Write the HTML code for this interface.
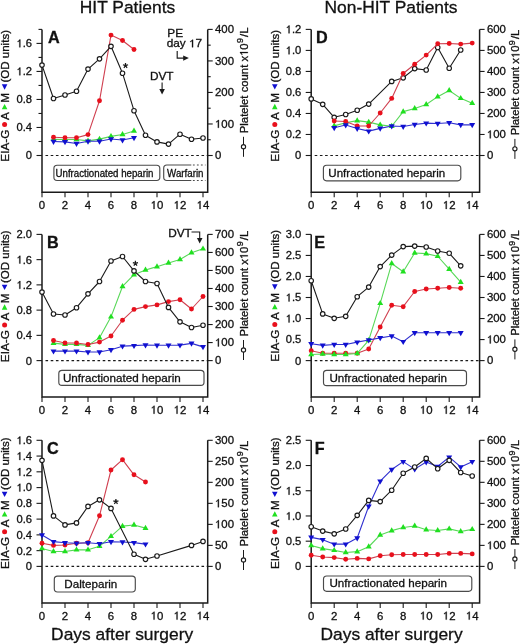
<!DOCTYPE html><html><head><meta charset="utf-8"><title>Figure</title><style>html,body{margin:0;padding:0;background:#fff;width:520px;height:644px;overflow:hidden}svg{display:block;will-change:transform}text{font-family:"Liberation Sans",sans-serif;fill:#111;stroke:#111;stroke-width:0.3px}</style></head><body>
<svg width="520" height="644" viewBox="0 0 520 644">
<rect width="520" height="644" fill="#fff"/>
<text x="79.80" y="12.60" font-size="17.40" text-anchor="start">HIT Patients</text>
<text x="324.50" y="12.60" font-size="17.40" text-anchor="start">Non-HIT Patients</text>
<text x="51.10" y="640.00" font-size="17.40" text-anchor="start">Days after surgery</text>
<text x="320.50" y="639.90" font-size="17.40" text-anchor="start">Days after surgery</text>
<path d="M42.00 29.40V192.30H207.70V29.40" fill="none" stroke="#1a1a1a" stroke-width="1.5"/>
<path d="M36.50 155.50H42.00" stroke="#1a1a1a" stroke-width="1.1"/>
<text x="32.10" y="159.40" font-size="11.20" text-anchor="end">0</text>
<path d="M38.50 141.49H42.00" stroke="#1a1a1a" stroke-width="1.1"/>
<path d="M36.50 127.48H42.00" stroke="#1a1a1a" stroke-width="1.1"/>
<text x="32.10" y="131.38" font-size="11.20" text-anchor="end">0.4</text>
<path d="M38.50 113.47H42.00" stroke="#1a1a1a" stroke-width="1.1"/>
<path d="M36.50 99.46H42.00" stroke="#1a1a1a" stroke-width="1.1"/>
<text x="32.10" y="103.36" font-size="11.20" text-anchor="end">0.8</text>
<path d="M38.50 85.44H42.00" stroke="#1a1a1a" stroke-width="1.1"/>
<path d="M36.50 71.43H42.00" stroke="#1a1a1a" stroke-width="1.1"/>
<path d="M696 0L515 0L515 1150C470 1105 410 1065 345 1030C295 1003 250 985 215 973L215 1120C300 1152 375 1205 432 1262C488 1318 528 1368 553 1409L696 1409Z" fill="#111" stroke="#111" stroke-width="0.3" vector-effect="non-scaling-stroke" transform="translate(16.53 75.33) scale(0.00547 -0.00547)"/><text x="22.76" y="75.33" font-size="11.20">.2</text>
<path d="M38.50 57.42H42.00" stroke="#1a1a1a" stroke-width="1.1"/>
<path d="M36.50 43.41H42.00" stroke="#1a1a1a" stroke-width="1.1"/>
<path d="M696 0L515 0L515 1150C470 1105 410 1065 345 1030C295 1003 250 985 215 973L215 1120C300 1152 375 1205 432 1262C488 1318 528 1368 553 1409L696 1409Z" fill="#111" stroke="#111" stroke-width="0.3" vector-effect="non-scaling-stroke" transform="translate(16.53 47.31) scale(0.00547 -0.00547)"/><text x="22.76" y="47.31" font-size="11.20">.6</text>
<path d="M38.50 29.40H42.00" stroke="#1a1a1a" stroke-width="1.1"/>
<path d="M207.70 155.50H212.70" stroke="#1a1a1a" stroke-width="1.1"/>
<text x="215.00" y="159.35" font-size="11.40" text-anchor="start">0</text>
<path d="M207.70 139.74H210.70" stroke="#1a1a1a" stroke-width="1.1"/>
<path d="M207.70 123.97H212.70" stroke="#1a1a1a" stroke-width="1.1"/>
<path d="M696 0L515 0L515 1150C470 1105 410 1065 345 1030C295 1003 250 985 215 973L215 1120C300 1152 375 1205 432 1262C488 1318 528 1368 553 1409L696 1409Z" fill="#111" stroke="#111" stroke-width="0.3" vector-effect="non-scaling-stroke" transform="translate(215.00 127.82) scale(0.00557 -0.00557)"/><text x="221.34" y="127.82" font-size="11.40">00</text>
<path d="M207.70 108.21H210.70" stroke="#1a1a1a" stroke-width="1.1"/>
<path d="M207.70 92.45H212.70" stroke="#1a1a1a" stroke-width="1.1"/>
<text x="215.00" y="96.30" font-size="11.40" text-anchor="start">200</text>
<path d="M207.70 76.69H210.70" stroke="#1a1a1a" stroke-width="1.1"/>
<path d="M207.70 60.92H212.70" stroke="#1a1a1a" stroke-width="1.1"/>
<text x="215.00" y="64.77" font-size="11.40" text-anchor="start">300</text>
<path d="M207.70 45.16H210.70" stroke="#1a1a1a" stroke-width="1.1"/>
<path d="M207.70 29.40H212.70" stroke="#1a1a1a" stroke-width="1.1"/>
<text x="215.00" y="33.25" font-size="11.40" text-anchor="start">400</text>
<path d="M42.00 192.30V197.30" stroke="#1a1a1a" stroke-width="1.1"/>
<text x="42.00" y="208.90" font-size="11.40" text-anchor="middle">0</text>
<path d="M65.00 192.30V197.30" stroke="#1a1a1a" stroke-width="1.1"/>
<text x="65.00" y="208.90" font-size="11.40" text-anchor="middle">2</text>
<path d="M88.00 192.30V197.30" stroke="#1a1a1a" stroke-width="1.1"/>
<text x="88.00" y="208.90" font-size="11.40" text-anchor="middle">4</text>
<path d="M111.00 192.30V197.30" stroke="#1a1a1a" stroke-width="1.1"/>
<text x="111.00" y="208.90" font-size="11.40" text-anchor="middle">6</text>
<path d="M134.00 192.30V197.30" stroke="#1a1a1a" stroke-width="1.1"/>
<text x="134.00" y="208.90" font-size="11.40" text-anchor="middle">8</text>
<path d="M157.00 192.30V197.30" stroke="#1a1a1a" stroke-width="1.1"/>
<path d="M696 0L515 0L515 1150C470 1105 410 1065 345 1030C295 1003 250 985 215 973L215 1120C300 1152 375 1205 432 1262C488 1318 528 1368 553 1409L696 1409Z" fill="#111" stroke="#111" stroke-width="0.3" vector-effect="non-scaling-stroke" transform="translate(150.66 208.90) scale(0.00557 -0.00557)"/><text x="157.00" y="208.90" font-size="11.40">0</text>
<path d="M180.00 192.30V197.30" stroke="#1a1a1a" stroke-width="1.1"/>
<path d="M696 0L515 0L515 1150C470 1105 410 1065 345 1030C295 1003 250 985 215 973L215 1120C300 1152 375 1205 432 1262C488 1318 528 1368 553 1409L696 1409Z" fill="#111" stroke="#111" stroke-width="0.3" vector-effect="non-scaling-stroke" transform="translate(173.66 208.90) scale(0.00557 -0.00557)"/><text x="180.00" y="208.90" font-size="11.40">2</text>
<path d="M203.00 192.30V197.30" stroke="#1a1a1a" stroke-width="1.1"/>
<path d="M696 0L515 0L515 1150C470 1105 410 1065 345 1030C295 1003 250 985 215 973L215 1120C300 1152 375 1205 432 1262C488 1318 528 1368 553 1409L696 1409Z" fill="#111" stroke="#111" stroke-width="0.3" vector-effect="non-scaling-stroke" transform="translate(196.66 208.90) scale(0.00557 -0.00557)"/><text x="203.00" y="208.90" font-size="11.40">4</text>
<path d="M45.50 155.50H207.70" stroke="#1a1a1a" stroke-width="1.1" stroke-dasharray="2.6 2.6"/>
<text x="48.10" y="42.80" font-size="16.2" font-weight="bold">A</text>
<polyline points="53.50,139.35 65.00,139.45 76.50,139.45 88.00,140.85 99.50,139.15 111.00,136.35 122.50,134.55 134.00,130.95" fill="none" stroke="#58d858" stroke-width="1.10" stroke-linejoin="round"/>
<path d="M53.50 135.90L56.50 141.10L50.50 141.10Z" fill="#20e020"/>
<path d="M65.00 136.00L68.00 141.20L62.00 141.20Z" fill="#20e020"/>
<path d="M76.50 136.00L79.50 141.20L73.50 141.20Z" fill="#20e020"/>
<path d="M88.00 137.40L91.00 142.60L85.00 142.60Z" fill="#20e020"/>
<path d="M99.50 135.70L102.50 140.90L96.50 140.90Z" fill="#20e020"/>
<path d="M111.00 132.90L114.00 138.10L108.00 138.10Z" fill="#20e020"/>
<path d="M122.50 131.10L125.50 136.30L119.50 136.30Z" fill="#20e020"/>
<path d="M134.00 127.50L137.00 132.70L131.00 132.70Z" fill="#20e020"/>
<polyline points="53.50,137.20 65.00,137.80 76.50,137.80 88.00,134.60 99.50,100.80 111.00,35.10 122.50,40.50 134.00,49.50" fill="none" stroke="#d04050" stroke-width="1.10" stroke-linejoin="round"/>
<circle cx="53.50" cy="137.20" r="2.45" fill="#e8101c"/>
<circle cx="65.00" cy="137.80" r="2.45" fill="#e8101c"/>
<circle cx="76.50" cy="137.80" r="2.45" fill="#e8101c"/>
<circle cx="88.00" cy="134.60" r="2.45" fill="#e8101c"/>
<circle cx="99.50" cy="100.80" r="2.45" fill="#e8101c"/>
<circle cx="111.00" cy="35.10" r="2.45" fill="#e8101c"/>
<circle cx="122.50" cy="40.50" r="2.45" fill="#e8101c"/>
<circle cx="134.00" cy="49.50" r="2.45" fill="#e8101c"/>
<polyline points="53.50,141.55 65.00,141.85 76.50,143.45 88.00,141.25 99.50,141.25 111.00,138.95 122.50,139.95 134.00,137.75" fill="none" stroke="#3030d0" stroke-width="1.10" stroke-linejoin="round"/>
<path d="M53.50 145.00L56.50 139.80L50.50 139.80Z" fill="#1010d0"/>
<path d="M65.00 145.30L68.00 140.10L62.00 140.10Z" fill="#1010d0"/>
<path d="M76.50 146.90L79.50 141.70L73.50 141.70Z" fill="#1010d0"/>
<path d="M88.00 144.70L91.00 139.50L85.00 139.50Z" fill="#1010d0"/>
<path d="M99.50 144.70L102.50 139.50L96.50 139.50Z" fill="#1010d0"/>
<path d="M111.00 142.40L114.00 137.20L108.00 137.20Z" fill="#1010d0"/>
<path d="M122.50 143.40L125.50 138.20L119.50 138.20Z" fill="#1010d0"/>
<path d="M134.00 141.20L137.00 136.00L131.00 136.00Z" fill="#1010d0"/>
<polyline points="42.00,65.10 53.50,98.50 65.00,95.00 76.50,91.20 88.00,69.10 99.50,58.80 111.00,46.30 122.50,73.20 134.00,110.70 145.50,135.20 157.00,141.90 168.50,144.10 180.00,134.20 191.50,139.20 203.00,138.00" fill="none" stroke="#1a1a1a" stroke-width="1.10" stroke-linejoin="round"/>
<circle cx="42.00" cy="65.10" r="2.25" fill="#fff" stroke="#1a1a1a" stroke-width="1.15"/>
<circle cx="53.50" cy="98.50" r="2.25" fill="#fff" stroke="#1a1a1a" stroke-width="1.15"/>
<circle cx="65.00" cy="95.00" r="2.25" fill="#fff" stroke="#1a1a1a" stroke-width="1.15"/>
<circle cx="76.50" cy="91.20" r="2.25" fill="#fff" stroke="#1a1a1a" stroke-width="1.15"/>
<circle cx="88.00" cy="69.10" r="2.25" fill="#fff" stroke="#1a1a1a" stroke-width="1.15"/>
<circle cx="99.50" cy="58.80" r="2.25" fill="#fff" stroke="#1a1a1a" stroke-width="1.15"/>
<circle cx="111.00" cy="46.30" r="2.25" fill="#fff" stroke="#1a1a1a" stroke-width="1.15"/>
<circle cx="122.50" cy="73.20" r="2.25" fill="#fff" stroke="#1a1a1a" stroke-width="1.15"/>
<circle cx="134.00" cy="110.70" r="2.25" fill="#fff" stroke="#1a1a1a" stroke-width="1.15"/>
<circle cx="145.50" cy="135.20" r="2.25" fill="#fff" stroke="#1a1a1a" stroke-width="1.15"/>
<circle cx="157.00" cy="141.90" r="2.25" fill="#fff" stroke="#1a1a1a" stroke-width="1.15"/>
<circle cx="168.50" cy="144.10" r="2.25" fill="#fff" stroke="#1a1a1a" stroke-width="1.15"/>
<circle cx="180.00" cy="134.20" r="2.25" fill="#fff" stroke="#1a1a1a" stroke-width="1.15"/>
<circle cx="191.50" cy="139.20" r="2.25" fill="#fff" stroke="#1a1a1a" stroke-width="1.15"/>
<circle cx="203.00" cy="138.00" r="2.25" fill="#fff" stroke="#1a1a1a" stroke-width="1.15"/>
<path d="M42.00 234.40V397.10H207.70V234.40" fill="none" stroke="#1a1a1a" stroke-width="1.5"/>
<path d="M36.50 360.60H42.00" stroke="#1a1a1a" stroke-width="1.1"/>
<text x="32.10" y="364.50" font-size="11.20" text-anchor="end">0</text>
<path d="M36.50 335.36H42.00" stroke="#1a1a1a" stroke-width="1.1"/>
<text x="32.10" y="339.26" font-size="11.20" text-anchor="end">0.4</text>
<path d="M36.50 310.12H42.00" stroke="#1a1a1a" stroke-width="1.1"/>
<text x="32.10" y="314.02" font-size="11.20" text-anchor="end">0.8</text>
<path d="M36.50 284.88H42.00" stroke="#1a1a1a" stroke-width="1.1"/>
<path d="M696 0L515 0L515 1150C470 1105 410 1065 345 1030C295 1003 250 985 215 973L215 1120C300 1152 375 1205 432 1262C488 1318 528 1368 553 1409L696 1409Z" fill="#111" stroke="#111" stroke-width="0.3" vector-effect="non-scaling-stroke" transform="translate(16.53 288.78) scale(0.00547 -0.00547)"/><text x="22.76" y="288.78" font-size="11.20">.2</text>
<path d="M36.50 259.64H42.00" stroke="#1a1a1a" stroke-width="1.1"/>
<path d="M696 0L515 0L515 1150C470 1105 410 1065 345 1030C295 1003 250 985 215 973L215 1120C300 1152 375 1205 432 1262C488 1318 528 1368 553 1409L696 1409Z" fill="#111" stroke="#111" stroke-width="0.3" vector-effect="non-scaling-stroke" transform="translate(16.53 263.54) scale(0.00547 -0.00547)"/><text x="22.76" y="263.54" font-size="11.20">.6</text>
<path d="M36.50 234.40H42.00" stroke="#1a1a1a" stroke-width="1.1"/>
<text x="32.10" y="238.30" font-size="11.20" text-anchor="end">2.0</text>
<path d="M207.70 360.60H212.70" stroke="#1a1a1a" stroke-width="1.1"/>
<text x="215.00" y="364.45" font-size="11.40" text-anchor="start">0</text>
<path d="M207.70 342.57H212.70" stroke="#1a1a1a" stroke-width="1.1"/>
<path d="M696 0L515 0L515 1150C470 1105 410 1065 345 1030C295 1003 250 985 215 973L215 1120C300 1152 375 1205 432 1262C488 1318 528 1368 553 1409L696 1409Z" fill="#111" stroke="#111" stroke-width="0.3" vector-effect="non-scaling-stroke" transform="translate(215.00 346.42) scale(0.00557 -0.00557)"/><text x="221.34" y="346.42" font-size="11.40">00</text>
<path d="M207.70 324.54H212.70" stroke="#1a1a1a" stroke-width="1.1"/>
<text x="215.00" y="328.39" font-size="11.40" text-anchor="start">200</text>
<path d="M207.70 306.51H212.70" stroke="#1a1a1a" stroke-width="1.1"/>
<text x="215.00" y="310.36" font-size="11.40" text-anchor="start">300</text>
<path d="M207.70 288.49H212.70" stroke="#1a1a1a" stroke-width="1.1"/>
<text x="215.00" y="292.34" font-size="11.40" text-anchor="start">400</text>
<path d="M207.70 270.46H212.70" stroke="#1a1a1a" stroke-width="1.1"/>
<text x="215.00" y="274.31" font-size="11.40" text-anchor="start">500</text>
<path d="M207.70 252.43H212.70" stroke="#1a1a1a" stroke-width="1.1"/>
<text x="215.00" y="256.28" font-size="11.40" text-anchor="start">600</text>
<path d="M207.70 234.40H212.70" stroke="#1a1a1a" stroke-width="1.1"/>
<text x="215.00" y="238.25" font-size="11.40" text-anchor="start">700</text>
<path d="M42.00 397.10V402.10" stroke="#1a1a1a" stroke-width="1.1"/>
<text x="42.00" y="413.70" font-size="11.40" text-anchor="middle">0</text>
<path d="M65.00 397.10V402.10" stroke="#1a1a1a" stroke-width="1.1"/>
<text x="65.00" y="413.70" font-size="11.40" text-anchor="middle">2</text>
<path d="M88.00 397.10V402.10" stroke="#1a1a1a" stroke-width="1.1"/>
<text x="88.00" y="413.70" font-size="11.40" text-anchor="middle">4</text>
<path d="M111.00 397.10V402.10" stroke="#1a1a1a" stroke-width="1.1"/>
<text x="111.00" y="413.70" font-size="11.40" text-anchor="middle">6</text>
<path d="M134.00 397.10V402.10" stroke="#1a1a1a" stroke-width="1.1"/>
<text x="134.00" y="413.70" font-size="11.40" text-anchor="middle">8</text>
<path d="M157.00 397.10V402.10" stroke="#1a1a1a" stroke-width="1.1"/>
<path d="M696 0L515 0L515 1150C470 1105 410 1065 345 1030C295 1003 250 985 215 973L215 1120C300 1152 375 1205 432 1262C488 1318 528 1368 553 1409L696 1409Z" fill="#111" stroke="#111" stroke-width="0.3" vector-effect="non-scaling-stroke" transform="translate(150.66 413.70) scale(0.00557 -0.00557)"/><text x="157.00" y="413.70" font-size="11.40">0</text>
<path d="M180.00 397.10V402.10" stroke="#1a1a1a" stroke-width="1.1"/>
<path d="M696 0L515 0L515 1150C470 1105 410 1065 345 1030C295 1003 250 985 215 973L215 1120C300 1152 375 1205 432 1262C488 1318 528 1368 553 1409L696 1409Z" fill="#111" stroke="#111" stroke-width="0.3" vector-effect="non-scaling-stroke" transform="translate(173.66 413.70) scale(0.00557 -0.00557)"/><text x="180.00" y="413.70" font-size="11.40">2</text>
<path d="M203.00 397.10V402.10" stroke="#1a1a1a" stroke-width="1.1"/>
<path d="M696 0L515 0L515 1150C470 1105 410 1065 345 1030C295 1003 250 985 215 973L215 1120C300 1152 375 1205 432 1262C488 1318 528 1368 553 1409L696 1409Z" fill="#111" stroke="#111" stroke-width="0.3" vector-effect="non-scaling-stroke" transform="translate(196.66 413.70) scale(0.00557 -0.00557)"/><text x="203.00" y="413.70" font-size="11.40">4</text>
<path d="M45.50 360.60H207.70" stroke="#1a1a1a" stroke-width="1.1" stroke-dasharray="2.6 2.6"/>
<text x="47.00" y="248.00" font-size="16.2" font-weight="bold">B</text>
<polyline points="53.50,343.15 65.00,344.35 76.50,344.35 88.00,345.35 99.50,337.65 111.00,316.85 122.50,286.45 134.00,274.65 145.50,270.05 157.00,266.65 168.50,262.95 180.00,259.55 191.50,252.65 203.00,248.85" fill="none" stroke="#58d858" stroke-width="1.10" stroke-linejoin="round"/>
<path d="M53.50 339.70L56.50 344.90L50.50 344.90Z" fill="#20e020"/>
<path d="M65.00 340.90L68.00 346.10L62.00 346.10Z" fill="#20e020"/>
<path d="M76.50 340.90L79.50 346.10L73.50 346.10Z" fill="#20e020"/>
<path d="M88.00 341.90L91.00 347.10L85.00 347.10Z" fill="#20e020"/>
<path d="M99.50 334.20L102.50 339.40L96.50 339.40Z" fill="#20e020"/>
<path d="M111.00 313.40L114.00 318.60L108.00 318.60Z" fill="#20e020"/>
<path d="M122.50 283.00L125.50 288.20L119.50 288.20Z" fill="#20e020"/>
<path d="M134.00 271.20L137.00 276.40L131.00 276.40Z" fill="#20e020"/>
<path d="M145.50 266.60L148.50 271.80L142.50 271.80Z" fill="#20e020"/>
<path d="M157.00 263.20L160.00 268.40L154.00 268.40Z" fill="#20e020"/>
<path d="M168.50 259.50L171.50 264.70L165.50 264.70Z" fill="#20e020"/>
<path d="M180.00 256.10L183.00 261.30L177.00 261.30Z" fill="#20e020"/>
<path d="M191.50 249.20L194.50 254.40L188.50 254.40Z" fill="#20e020"/>
<path d="M203.00 245.40L206.00 250.60L200.00 250.60Z" fill="#20e020"/>
<polyline points="53.50,340.50 65.00,343.00 76.50,343.00 88.00,344.50 99.50,342.10 111.00,336.00 122.50,320.20 134.00,309.40 145.50,306.60 157.00,304.90 168.50,301.60 180.00,299.80 191.50,309.00 203.00,296.50" fill="none" stroke="#d04050" stroke-width="1.10" stroke-linejoin="round"/>
<circle cx="53.50" cy="340.50" r="2.45" fill="#e8101c"/>
<circle cx="65.00" cy="343.00" r="2.45" fill="#e8101c"/>
<circle cx="76.50" cy="343.00" r="2.45" fill="#e8101c"/>
<circle cx="88.00" cy="344.50" r="2.45" fill="#e8101c"/>
<circle cx="99.50" cy="342.10" r="2.45" fill="#e8101c"/>
<circle cx="111.00" cy="336.00" r="2.45" fill="#e8101c"/>
<circle cx="122.50" cy="320.20" r="2.45" fill="#e8101c"/>
<circle cx="134.00" cy="309.40" r="2.45" fill="#e8101c"/>
<circle cx="145.50" cy="306.60" r="2.45" fill="#e8101c"/>
<circle cx="157.00" cy="304.90" r="2.45" fill="#e8101c"/>
<circle cx="168.50" cy="301.60" r="2.45" fill="#e8101c"/>
<circle cx="180.00" cy="299.80" r="2.45" fill="#e8101c"/>
<circle cx="191.50" cy="309.00" r="2.45" fill="#e8101c"/>
<circle cx="203.00" cy="296.50" r="2.45" fill="#e8101c"/>
<polyline points="53.50,351.15 65.00,351.15 76.50,351.15 88.00,351.95 99.50,351.95 111.00,349.75 122.50,346.15 134.00,345.65 145.50,344.95 157.00,345.25 168.50,345.25 180.00,345.15 191.50,343.35 203.00,346.85" fill="none" stroke="#3030d0" stroke-width="1.10" stroke-linejoin="round"/>
<path d="M53.50 354.60L56.50 349.40L50.50 349.40Z" fill="#1010d0"/>
<path d="M65.00 354.60L68.00 349.40L62.00 349.40Z" fill="#1010d0"/>
<path d="M76.50 354.60L79.50 349.40L73.50 349.40Z" fill="#1010d0"/>
<path d="M88.00 355.40L91.00 350.20L85.00 350.20Z" fill="#1010d0"/>
<path d="M99.50 355.40L102.50 350.20L96.50 350.20Z" fill="#1010d0"/>
<path d="M111.00 353.20L114.00 348.00L108.00 348.00Z" fill="#1010d0"/>
<path d="M122.50 349.60L125.50 344.40L119.50 344.40Z" fill="#1010d0"/>
<path d="M134.00 349.10L137.00 343.90L131.00 343.90Z" fill="#1010d0"/>
<path d="M145.50 348.40L148.50 343.20L142.50 343.20Z" fill="#1010d0"/>
<path d="M157.00 348.70L160.00 343.50L154.00 343.50Z" fill="#1010d0"/>
<path d="M168.50 348.70L171.50 343.50L165.50 343.50Z" fill="#1010d0"/>
<path d="M180.00 348.60L183.00 343.40L177.00 343.40Z" fill="#1010d0"/>
<path d="M191.50 346.80L194.50 341.60L188.50 341.60Z" fill="#1010d0"/>
<path d="M203.00 350.30L206.00 345.10L200.00 345.10Z" fill="#1010d0"/>
<polyline points="42.00,292.10 53.50,314.00 65.00,315.00 76.50,307.70 88.00,293.80 99.50,281.50 111.00,261.00 122.50,256.50 134.00,270.90 145.50,281.50 157.00,283.50 168.50,307.40 180.00,321.80 191.50,327.50 203.00,325.20" fill="none" stroke="#1a1a1a" stroke-width="1.10" stroke-linejoin="round"/>
<circle cx="42.00" cy="292.10" r="2.25" fill="#fff" stroke="#1a1a1a" stroke-width="1.15"/>
<circle cx="53.50" cy="314.00" r="2.25" fill="#fff" stroke="#1a1a1a" stroke-width="1.15"/>
<circle cx="65.00" cy="315.00" r="2.25" fill="#fff" stroke="#1a1a1a" stroke-width="1.15"/>
<circle cx="76.50" cy="307.70" r="2.25" fill="#fff" stroke="#1a1a1a" stroke-width="1.15"/>
<circle cx="88.00" cy="293.80" r="2.25" fill="#fff" stroke="#1a1a1a" stroke-width="1.15"/>
<circle cx="99.50" cy="281.50" r="2.25" fill="#fff" stroke="#1a1a1a" stroke-width="1.15"/>
<circle cx="111.00" cy="261.00" r="2.25" fill="#fff" stroke="#1a1a1a" stroke-width="1.15"/>
<circle cx="122.50" cy="256.50" r="2.25" fill="#fff" stroke="#1a1a1a" stroke-width="1.15"/>
<circle cx="134.00" cy="270.90" r="2.25" fill="#fff" stroke="#1a1a1a" stroke-width="1.15"/>
<circle cx="145.50" cy="281.50" r="2.25" fill="#fff" stroke="#1a1a1a" stroke-width="1.15"/>
<circle cx="157.00" cy="283.50" r="2.25" fill="#fff" stroke="#1a1a1a" stroke-width="1.15"/>
<circle cx="168.50" cy="307.40" r="2.25" fill="#fff" stroke="#1a1a1a" stroke-width="1.15"/>
<circle cx="180.00" cy="321.80" r="2.25" fill="#fff" stroke="#1a1a1a" stroke-width="1.15"/>
<circle cx="191.50" cy="327.50" r="2.25" fill="#fff" stroke="#1a1a1a" stroke-width="1.15"/>
<circle cx="203.00" cy="325.20" r="2.25" fill="#fff" stroke="#1a1a1a" stroke-width="1.15"/>
<path d="M42.00 440.30V603.00H207.70V440.30" fill="none" stroke="#1a1a1a" stroke-width="1.5"/>
<path d="M36.50 566.40H42.00" stroke="#1a1a1a" stroke-width="1.1"/>
<text x="32.10" y="570.30" font-size="11.20" text-anchor="end">0</text>
<path d="M36.50 550.64H42.00" stroke="#1a1a1a" stroke-width="1.1"/>
<text x="32.10" y="554.54" font-size="11.20" text-anchor="end">0.2</text>
<path d="M36.50 534.88H42.00" stroke="#1a1a1a" stroke-width="1.1"/>
<text x="32.10" y="538.77" font-size="11.20" text-anchor="end">0.4</text>
<path d="M36.50 519.11H42.00" stroke="#1a1a1a" stroke-width="1.1"/>
<text x="32.10" y="523.01" font-size="11.20" text-anchor="end">0.6</text>
<path d="M36.50 503.35H42.00" stroke="#1a1a1a" stroke-width="1.1"/>
<text x="32.10" y="507.25" font-size="11.20" text-anchor="end">0.8</text>
<path d="M36.50 487.59H42.00" stroke="#1a1a1a" stroke-width="1.1"/>
<path d="M696 0L515 0L515 1150C470 1105 410 1065 345 1030C295 1003 250 985 215 973L215 1120C300 1152 375 1205 432 1262C488 1318 528 1368 553 1409L696 1409Z" fill="#111" stroke="#111" stroke-width="0.3" vector-effect="non-scaling-stroke" transform="translate(16.53 491.49) scale(0.00547 -0.00547)"/><text x="22.76" y="491.49" font-size="11.20">.0</text>
<path d="M36.50 471.82H42.00" stroke="#1a1a1a" stroke-width="1.1"/>
<path d="M696 0L515 0L515 1150C470 1105 410 1065 345 1030C295 1003 250 985 215 973L215 1120C300 1152 375 1205 432 1262C488 1318 528 1368 553 1409L696 1409Z" fill="#111" stroke="#111" stroke-width="0.3" vector-effect="non-scaling-stroke" transform="translate(16.53 475.72) scale(0.00547 -0.00547)"/><text x="22.76" y="475.72" font-size="11.20">.2</text>
<path d="M36.50 456.06H42.00" stroke="#1a1a1a" stroke-width="1.1"/>
<path d="M696 0L515 0L515 1150C470 1105 410 1065 345 1030C295 1003 250 985 215 973L215 1120C300 1152 375 1205 432 1262C488 1318 528 1368 553 1409L696 1409Z" fill="#111" stroke="#111" stroke-width="0.3" vector-effect="non-scaling-stroke" transform="translate(16.53 459.96) scale(0.00547 -0.00547)"/><text x="22.76" y="459.96" font-size="11.20">.4</text>
<path d="M36.50 440.30H42.00" stroke="#1a1a1a" stroke-width="1.1"/>
<path d="M696 0L515 0L515 1150C470 1105 410 1065 345 1030C295 1003 250 985 215 973L215 1120C300 1152 375 1205 432 1262C488 1318 528 1368 553 1409L696 1409Z" fill="#111" stroke="#111" stroke-width="0.3" vector-effect="non-scaling-stroke" transform="translate(16.53 444.20) scale(0.00547 -0.00547)"/><text x="22.76" y="444.20" font-size="11.20">.6</text>
<path d="M207.70 566.40H212.70" stroke="#1a1a1a" stroke-width="1.1"/>
<text x="215.00" y="570.25" font-size="11.40" text-anchor="start">0</text>
<path d="M207.70 545.38H212.70" stroke="#1a1a1a" stroke-width="1.1"/>
<text x="215.00" y="549.23" font-size="11.40" text-anchor="start">50</text>
<path d="M207.70 524.37H212.70" stroke="#1a1a1a" stroke-width="1.1"/>
<path d="M696 0L515 0L515 1150C470 1105 410 1065 345 1030C295 1003 250 985 215 973L215 1120C300 1152 375 1205 432 1262C488 1318 528 1368 553 1409L696 1409Z" fill="#111" stroke="#111" stroke-width="0.3" vector-effect="non-scaling-stroke" transform="translate(215.00 528.22) scale(0.00557 -0.00557)"/><text x="221.34" y="528.22" font-size="11.40">00</text>
<path d="M207.70 503.35H212.70" stroke="#1a1a1a" stroke-width="1.1"/>
<path d="M696 0L515 0L515 1150C470 1105 410 1065 345 1030C295 1003 250 985 215 973L215 1120C300 1152 375 1205 432 1262C488 1318 528 1368 553 1409L696 1409Z" fill="#111" stroke="#111" stroke-width="0.3" vector-effect="non-scaling-stroke" transform="translate(215.00 507.20) scale(0.00557 -0.00557)"/><text x="221.34" y="507.20" font-size="11.40">50</text>
<path d="M207.70 482.33H212.70" stroke="#1a1a1a" stroke-width="1.1"/>
<text x="215.00" y="486.18" font-size="11.40" text-anchor="start">200</text>
<path d="M207.70 461.32H212.70" stroke="#1a1a1a" stroke-width="1.1"/>
<text x="215.00" y="465.17" font-size="11.40" text-anchor="start">250</text>
<path d="M207.70 440.30H212.70" stroke="#1a1a1a" stroke-width="1.1"/>
<text x="215.00" y="444.15" font-size="11.40" text-anchor="start">300</text>
<path d="M42.00 603.00V608.00" stroke="#1a1a1a" stroke-width="1.1"/>
<text x="42.00" y="619.60" font-size="11.40" text-anchor="middle">0</text>
<path d="M65.00 603.00V608.00" stroke="#1a1a1a" stroke-width="1.1"/>
<text x="65.00" y="619.60" font-size="11.40" text-anchor="middle">2</text>
<path d="M88.00 603.00V608.00" stroke="#1a1a1a" stroke-width="1.1"/>
<text x="88.00" y="619.60" font-size="11.40" text-anchor="middle">4</text>
<path d="M111.00 603.00V608.00" stroke="#1a1a1a" stroke-width="1.1"/>
<text x="111.00" y="619.60" font-size="11.40" text-anchor="middle">6</text>
<path d="M134.00 603.00V608.00" stroke="#1a1a1a" stroke-width="1.1"/>
<text x="134.00" y="619.60" font-size="11.40" text-anchor="middle">8</text>
<path d="M157.00 603.00V608.00" stroke="#1a1a1a" stroke-width="1.1"/>
<path d="M696 0L515 0L515 1150C470 1105 410 1065 345 1030C295 1003 250 985 215 973L215 1120C300 1152 375 1205 432 1262C488 1318 528 1368 553 1409L696 1409Z" fill="#111" stroke="#111" stroke-width="0.3" vector-effect="non-scaling-stroke" transform="translate(150.66 619.60) scale(0.00557 -0.00557)"/><text x="157.00" y="619.60" font-size="11.40">0</text>
<path d="M180.00 603.00V608.00" stroke="#1a1a1a" stroke-width="1.1"/>
<path d="M696 0L515 0L515 1150C470 1105 410 1065 345 1030C295 1003 250 985 215 973L215 1120C300 1152 375 1205 432 1262C488 1318 528 1368 553 1409L696 1409Z" fill="#111" stroke="#111" stroke-width="0.3" vector-effect="non-scaling-stroke" transform="translate(173.66 619.60) scale(0.00557 -0.00557)"/><text x="180.00" y="619.60" font-size="11.40">2</text>
<path d="M203.00 603.00V608.00" stroke="#1a1a1a" stroke-width="1.1"/>
<path d="M696 0L515 0L515 1150C470 1105 410 1065 345 1030C295 1003 250 985 215 973L215 1120C300 1152 375 1205 432 1262C488 1318 528 1368 553 1409L696 1409Z" fill="#111" stroke="#111" stroke-width="0.3" vector-effect="non-scaling-stroke" transform="translate(196.66 619.60) scale(0.00557 -0.00557)"/><text x="203.00" y="619.60" font-size="11.40">4</text>
<path d="M45.50 566.40H207.70" stroke="#1a1a1a" stroke-width="1.1" stroke-dasharray="2.6 2.6"/>
<text x="47.00" y="453.60" font-size="16.2" font-weight="bold">C</text>
<polyline points="42.00,548.55 53.50,551.55 65.00,551.55 76.50,549.85 88.00,549.85 99.50,546.25 111.00,536.35 122.50,526.15 134.00,525.05 145.50,528.15" fill="none" stroke="#58d858" stroke-width="1.10" stroke-linejoin="round"/>
<path d="M42.00 545.10L45.00 550.30L39.00 550.30Z" fill="#20e020"/>
<path d="M53.50 548.10L56.50 553.30L50.50 553.30Z" fill="#20e020"/>
<path d="M65.00 548.10L68.00 553.30L62.00 553.30Z" fill="#20e020"/>
<path d="M76.50 546.40L79.50 551.60L73.50 551.60Z" fill="#20e020"/>
<path d="M88.00 546.40L91.00 551.60L85.00 551.60Z" fill="#20e020"/>
<path d="M99.50 542.80L102.50 548.00L96.50 548.00Z" fill="#20e020"/>
<path d="M111.00 532.90L114.00 538.10L108.00 538.10Z" fill="#20e020"/>
<path d="M122.50 522.70L125.50 527.90L119.50 527.90Z" fill="#20e020"/>
<path d="M134.00 521.60L137.00 526.80L131.00 526.80Z" fill="#20e020"/>
<path d="M145.50 524.70L148.50 529.90L142.50 529.90Z" fill="#20e020"/>
<polyline points="42.00,543.30 53.50,545.40 65.00,545.00 76.50,543.30 88.00,542.80 99.50,515.80 111.00,470.00 122.50,459.70 134.00,474.80 145.50,482.00" fill="none" stroke="#d04050" stroke-width="1.10" stroke-linejoin="round"/>
<circle cx="42.00" cy="543.30" r="2.45" fill="#e8101c"/>
<circle cx="53.50" cy="545.40" r="2.45" fill="#e8101c"/>
<circle cx="65.00" cy="545.00" r="2.45" fill="#e8101c"/>
<circle cx="76.50" cy="543.30" r="2.45" fill="#e8101c"/>
<circle cx="88.00" cy="542.80" r="2.45" fill="#e8101c"/>
<circle cx="99.50" cy="515.80" r="2.45" fill="#e8101c"/>
<circle cx="111.00" cy="470.00" r="2.45" fill="#e8101c"/>
<circle cx="122.50" cy="459.70" r="2.45" fill="#e8101c"/>
<circle cx="134.00" cy="474.80" r="2.45" fill="#e8101c"/>
<circle cx="145.50" cy="482.00" r="2.45" fill="#e8101c"/>
<polyline points="42.00,535.05 53.50,541.65 65.00,542.75 76.50,543.25 88.00,542.75 99.50,543.75 111.00,541.75 122.50,542.05 134.00,542.65 145.50,544.15" fill="none" stroke="#3030d0" stroke-width="1.10" stroke-linejoin="round"/>
<path d="M42.00 538.50L45.00 533.30L39.00 533.30Z" fill="#1010d0"/>
<path d="M53.50 545.10L56.50 539.90L50.50 539.90Z" fill="#1010d0"/>
<path d="M65.00 546.20L68.00 541.00L62.00 541.00Z" fill="#1010d0"/>
<path d="M76.50 546.70L79.50 541.50L73.50 541.50Z" fill="#1010d0"/>
<path d="M88.00 546.20L91.00 541.00L85.00 541.00Z" fill="#1010d0"/>
<path d="M99.50 547.20L102.50 542.00L96.50 542.00Z" fill="#1010d0"/>
<path d="M111.00 545.20L114.00 540.00L108.00 540.00Z" fill="#1010d0"/>
<path d="M122.50 545.50L125.50 540.30L119.50 540.30Z" fill="#1010d0"/>
<path d="M134.00 546.10L137.00 540.90L131.00 540.90Z" fill="#1010d0"/>
<path d="M145.50 547.60L148.50 542.40L142.50 542.40Z" fill="#1010d0"/>
<polyline points="42.00,460.30 53.50,515.90 65.00,524.90 76.50,522.90 88.00,506.40 99.50,499.80 111.00,508.40 134.00,554.20 145.50,559.30 157.00,556.00 191.50,545.40 203.00,541.40" fill="none" stroke="#1a1a1a" stroke-width="1.10" stroke-linejoin="round"/>
<circle cx="42.00" cy="460.30" r="2.25" fill="#fff" stroke="#1a1a1a" stroke-width="1.15"/>
<circle cx="53.50" cy="515.90" r="2.25" fill="#fff" stroke="#1a1a1a" stroke-width="1.15"/>
<circle cx="65.00" cy="524.90" r="2.25" fill="#fff" stroke="#1a1a1a" stroke-width="1.15"/>
<circle cx="76.50" cy="522.90" r="2.25" fill="#fff" stroke="#1a1a1a" stroke-width="1.15"/>
<circle cx="88.00" cy="506.40" r="2.25" fill="#fff" stroke="#1a1a1a" stroke-width="1.15"/>
<circle cx="99.50" cy="499.80" r="2.25" fill="#fff" stroke="#1a1a1a" stroke-width="1.15"/>
<circle cx="111.00" cy="508.40" r="2.25" fill="#fff" stroke="#1a1a1a" stroke-width="1.15"/>
<circle cx="134.00" cy="554.20" r="2.25" fill="#fff" stroke="#1a1a1a" stroke-width="1.15"/>
<circle cx="145.50" cy="559.30" r="2.25" fill="#fff" stroke="#1a1a1a" stroke-width="1.15"/>
<circle cx="157.00" cy="556.00" r="2.25" fill="#fff" stroke="#1a1a1a" stroke-width="1.15"/>
<circle cx="191.50" cy="545.40" r="2.25" fill="#fff" stroke="#1a1a1a" stroke-width="1.15"/>
<circle cx="203.00" cy="541.40" r="2.25" fill="#fff" stroke="#1a1a1a" stroke-width="1.15"/>
<path d="M311.20 29.40V192.30H479.60V29.40" fill="none" stroke="#1a1a1a" stroke-width="1.5"/>
<path d="M305.70 155.50H311.20" stroke="#1a1a1a" stroke-width="1.1"/>
<text x="301.30" y="159.40" font-size="11.20" text-anchor="end">0</text>
<path d="M305.70 134.48H311.20" stroke="#1a1a1a" stroke-width="1.1"/>
<text x="301.30" y="138.38" font-size="11.20" text-anchor="end">0.2</text>
<path d="M305.70 113.47H311.20" stroke="#1a1a1a" stroke-width="1.1"/>
<text x="301.30" y="117.37" font-size="11.20" text-anchor="end">0.4</text>
<path d="M305.70 92.45H311.20" stroke="#1a1a1a" stroke-width="1.1"/>
<text x="301.30" y="96.35" font-size="11.20" text-anchor="end">0.6</text>
<path d="M305.70 71.43H311.20" stroke="#1a1a1a" stroke-width="1.1"/>
<text x="301.30" y="75.33" font-size="11.20" text-anchor="end">0.8</text>
<path d="M305.70 50.42H311.20" stroke="#1a1a1a" stroke-width="1.1"/>
<path d="M696 0L515 0L515 1150C470 1105 410 1065 345 1030C295 1003 250 985 215 973L215 1120C300 1152 375 1205 432 1262C488 1318 528 1368 553 1409L696 1409Z" fill="#111" stroke="#111" stroke-width="0.3" vector-effect="non-scaling-stroke" transform="translate(285.73 54.32) scale(0.00547 -0.00547)"/><text x="291.96" y="54.32" font-size="11.20">.0</text>
<path d="M305.70 29.40H311.20" stroke="#1a1a1a" stroke-width="1.1"/>
<path d="M696 0L515 0L515 1150C470 1105 410 1065 345 1030C295 1003 250 985 215 973L215 1120C300 1152 375 1205 432 1262C488 1318 528 1368 553 1409L696 1409Z" fill="#111" stroke="#111" stroke-width="0.3" vector-effect="non-scaling-stroke" transform="translate(285.73 33.30) scale(0.00547 -0.00547)"/><text x="291.96" y="33.30" font-size="11.20">.2</text>
<path d="M479.60 155.50H484.60" stroke="#1a1a1a" stroke-width="1.1"/>
<text x="486.90" y="159.35" font-size="11.40" text-anchor="start">0</text>
<path d="M479.60 134.48H484.60" stroke="#1a1a1a" stroke-width="1.1"/>
<path d="M696 0L515 0L515 1150C470 1105 410 1065 345 1030C295 1003 250 985 215 973L215 1120C300 1152 375 1205 432 1262C488 1318 528 1368 553 1409L696 1409Z" fill="#111" stroke="#111" stroke-width="0.3" vector-effect="non-scaling-stroke" transform="translate(486.90 138.33) scale(0.00557 -0.00557)"/><text x="493.24" y="138.33" font-size="11.40">00</text>
<path d="M479.60 113.47H484.60" stroke="#1a1a1a" stroke-width="1.1"/>
<text x="486.90" y="117.32" font-size="11.40" text-anchor="start">200</text>
<path d="M479.60 92.45H484.60" stroke="#1a1a1a" stroke-width="1.1"/>
<text x="486.90" y="96.30" font-size="11.40" text-anchor="start">300</text>
<path d="M479.60 71.43H484.60" stroke="#1a1a1a" stroke-width="1.1"/>
<text x="486.90" y="75.28" font-size="11.40" text-anchor="start">400</text>
<path d="M479.60 50.42H484.60" stroke="#1a1a1a" stroke-width="1.1"/>
<text x="486.90" y="54.27" font-size="11.40" text-anchor="start">500</text>
<path d="M479.60 29.40H484.60" stroke="#1a1a1a" stroke-width="1.1"/>
<text x="486.90" y="33.25" font-size="11.40" text-anchor="start">600</text>
<path d="M311.20 192.30V197.30" stroke="#1a1a1a" stroke-width="1.1"/>
<text x="311.20" y="208.90" font-size="11.40" text-anchor="middle">0</text>
<path d="M334.20 192.30V197.30" stroke="#1a1a1a" stroke-width="1.1"/>
<text x="334.20" y="208.90" font-size="11.40" text-anchor="middle">2</text>
<path d="M357.20 192.30V197.30" stroke="#1a1a1a" stroke-width="1.1"/>
<text x="357.20" y="208.90" font-size="11.40" text-anchor="middle">4</text>
<path d="M380.20 192.30V197.30" stroke="#1a1a1a" stroke-width="1.1"/>
<text x="380.20" y="208.90" font-size="11.40" text-anchor="middle">6</text>
<path d="M403.20 192.30V197.30" stroke="#1a1a1a" stroke-width="1.1"/>
<text x="403.20" y="208.90" font-size="11.40" text-anchor="middle">8</text>
<path d="M426.20 192.30V197.30" stroke="#1a1a1a" stroke-width="1.1"/>
<path d="M696 0L515 0L515 1150C470 1105 410 1065 345 1030C295 1003 250 985 215 973L215 1120C300 1152 375 1205 432 1262C488 1318 528 1368 553 1409L696 1409Z" fill="#111" stroke="#111" stroke-width="0.3" vector-effect="non-scaling-stroke" transform="translate(419.86 208.90) scale(0.00557 -0.00557)"/><text x="426.20" y="208.90" font-size="11.40">0</text>
<path d="M449.20 192.30V197.30" stroke="#1a1a1a" stroke-width="1.1"/>
<path d="M696 0L515 0L515 1150C470 1105 410 1065 345 1030C295 1003 250 985 215 973L215 1120C300 1152 375 1205 432 1262C488 1318 528 1368 553 1409L696 1409Z" fill="#111" stroke="#111" stroke-width="0.3" vector-effect="non-scaling-stroke" transform="translate(442.86 208.90) scale(0.00557 -0.00557)"/><text x="449.20" y="208.90" font-size="11.40">2</text>
<path d="M472.20 192.30V197.30" stroke="#1a1a1a" stroke-width="1.1"/>
<path d="M696 0L515 0L515 1150C470 1105 410 1065 345 1030C295 1003 250 985 215 973L215 1120C300 1152 375 1205 432 1262C488 1318 528 1368 553 1409L696 1409Z" fill="#111" stroke="#111" stroke-width="0.3" vector-effect="non-scaling-stroke" transform="translate(465.86 208.90) scale(0.00557 -0.00557)"/><text x="472.20" y="208.90" font-size="11.40">4</text>
<path d="M314.70 155.50H479.60" stroke="#1a1a1a" stroke-width="1.1" stroke-dasharray="2.6 2.6"/>
<text x="316.00" y="43.00" font-size="16.2" font-weight="bold">D</text>
<polyline points="311.20,98.90 322.70,104.30 334.20,117.30 345.70,114.50 357.20,110.20 368.70,104.10 391.70,81.40 403.20,77.80 414.70,68.60 426.20,70.00 437.70,47.50 449.20,68.20 460.70,50.00" fill="none" stroke="#1a1a1a" stroke-width="1.10" stroke-linejoin="round"/>
<circle cx="311.20" cy="98.90" r="2.25" fill="#fff" stroke="#1a1a1a" stroke-width="1.15"/>
<circle cx="322.70" cy="104.30" r="2.25" fill="#fff" stroke="#1a1a1a" stroke-width="1.15"/>
<circle cx="334.20" cy="117.30" r="2.25" fill="#fff" stroke="#1a1a1a" stroke-width="1.15"/>
<circle cx="345.70" cy="114.50" r="2.25" fill="#fff" stroke="#1a1a1a" stroke-width="1.15"/>
<circle cx="357.20" cy="110.20" r="2.25" fill="#fff" stroke="#1a1a1a" stroke-width="1.15"/>
<circle cx="368.70" cy="104.10" r="2.25" fill="#fff" stroke="#1a1a1a" stroke-width="1.15"/>
<circle cx="391.70" cy="81.40" r="2.25" fill="#fff" stroke="#1a1a1a" stroke-width="1.15"/>
<circle cx="403.20" cy="77.80" r="2.25" fill="#fff" stroke="#1a1a1a" stroke-width="1.15"/>
<circle cx="414.70" cy="68.60" r="2.25" fill="#fff" stroke="#1a1a1a" stroke-width="1.15"/>
<circle cx="426.20" cy="70.00" r="2.25" fill="#fff" stroke="#1a1a1a" stroke-width="1.15"/>
<circle cx="437.70" cy="47.50" r="2.25" fill="#fff" stroke="#1a1a1a" stroke-width="1.15"/>
<circle cx="449.20" cy="68.20" r="2.25" fill="#fff" stroke="#1a1a1a" stroke-width="1.15"/>
<circle cx="460.70" cy="50.00" r="2.25" fill="#fff" stroke="#1a1a1a" stroke-width="1.15"/>
<polyline points="334.20,125.85 345.70,122.75 357.20,120.65 368.70,122.15 380.20,124.85 391.70,126.25 403.20,111.65 414.70,108.45 426.20,104.45 437.70,96.65 449.20,90.55 460.70,98.35 472.20,103.25" fill="none" stroke="#58d858" stroke-width="1.10" stroke-linejoin="round"/>
<path d="M334.20 122.40L337.20 127.60L331.20 127.60Z" fill="#20e020"/>
<path d="M345.70 119.30L348.70 124.50L342.70 124.50Z" fill="#20e020"/>
<path d="M357.20 117.20L360.20 122.40L354.20 122.40Z" fill="#20e020"/>
<path d="M368.70 118.70L371.70 123.90L365.70 123.90Z" fill="#20e020"/>
<path d="M380.20 121.40L383.20 126.60L377.20 126.60Z" fill="#20e020"/>
<path d="M391.70 122.80L394.70 128.00L388.70 128.00Z" fill="#20e020"/>
<path d="M403.20 108.20L406.20 113.40L400.20 113.40Z" fill="#20e020"/>
<path d="M414.70 105.00L417.70 110.20L411.70 110.20Z" fill="#20e020"/>
<path d="M426.20 101.00L429.20 106.20L423.20 106.20Z" fill="#20e020"/>
<path d="M437.70 93.20L440.70 98.40L434.70 98.40Z" fill="#20e020"/>
<path d="M449.20 87.10L452.20 92.30L446.20 92.30Z" fill="#20e020"/>
<path d="M460.70 94.90L463.70 100.10L457.70 100.10Z" fill="#20e020"/>
<path d="M472.20 99.80L475.20 105.00L469.20 105.00Z" fill="#20e020"/>
<polyline points="334.20,121.00 345.70,121.50 357.20,126.00 368.70,126.00 380.20,113.00 391.70,98.40 403.20,73.50 414.70,64.20 426.20,55.10 437.70,43.80 449.20,43.50 460.70,44.10 472.20,43.10" fill="none" stroke="#d04050" stroke-width="1.10" stroke-linejoin="round"/>
<circle cx="334.20" cy="121.00" r="2.45" fill="#e8101c"/>
<circle cx="345.70" cy="121.50" r="2.45" fill="#e8101c"/>
<circle cx="357.20" cy="126.00" r="2.45" fill="#e8101c"/>
<circle cx="368.70" cy="126.00" r="2.45" fill="#e8101c"/>
<circle cx="380.20" cy="113.00" r="2.45" fill="#e8101c"/>
<circle cx="391.70" cy="98.40" r="2.45" fill="#e8101c"/>
<circle cx="403.20" cy="73.50" r="2.45" fill="#e8101c"/>
<circle cx="414.70" cy="64.20" r="2.45" fill="#e8101c"/>
<circle cx="426.20" cy="55.10" r="2.45" fill="#e8101c"/>
<circle cx="437.70" cy="43.80" r="2.45" fill="#e8101c"/>
<circle cx="449.20" cy="43.50" r="2.45" fill="#e8101c"/>
<circle cx="460.70" cy="44.10" r="2.45" fill="#e8101c"/>
<circle cx="472.20" cy="43.10" r="2.45" fill="#e8101c"/>
<polyline points="334.20,127.75 345.70,124.95 357.20,128.45 368.70,131.15 380.20,128.35 391.70,125.95 403.20,126.45 414.70,124.45 426.20,123.15 437.70,123.45 449.20,122.75 460.70,124.85 472.20,124.85" fill="none" stroke="#3030d0" stroke-width="1.10" stroke-linejoin="round"/>
<path d="M334.20 131.20L337.20 126.00L331.20 126.00Z" fill="#1010d0"/>
<path d="M345.70 128.40L348.70 123.20L342.70 123.20Z" fill="#1010d0"/>
<path d="M357.20 131.90L360.20 126.70L354.20 126.70Z" fill="#1010d0"/>
<path d="M368.70 134.60L371.70 129.40L365.70 129.40Z" fill="#1010d0"/>
<path d="M380.20 131.80L383.20 126.60L377.20 126.60Z" fill="#1010d0"/>
<path d="M391.70 129.40L394.70 124.20L388.70 124.20Z" fill="#1010d0"/>
<path d="M403.20 129.90L406.20 124.70L400.20 124.70Z" fill="#1010d0"/>
<path d="M414.70 127.90L417.70 122.70L411.70 122.70Z" fill="#1010d0"/>
<path d="M426.20 126.60L429.20 121.40L423.20 121.40Z" fill="#1010d0"/>
<path d="M437.70 126.90L440.70 121.70L434.70 121.70Z" fill="#1010d0"/>
<path d="M449.20 126.20L452.20 121.00L446.20 121.00Z" fill="#1010d0"/>
<path d="M460.70 128.30L463.70 123.10L457.70 123.10Z" fill="#1010d0"/>
<path d="M472.20 128.30L475.20 123.10L469.20 123.10Z" fill="#1010d0"/>
<path d="M311.20 234.40V397.10H479.60V234.40" fill="none" stroke="#1a1a1a" stroke-width="1.5"/>
<path d="M305.70 360.60H311.20" stroke="#1a1a1a" stroke-width="1.1"/>
<text x="301.30" y="364.50" font-size="11.20" text-anchor="end">0</text>
<text x="301.30" y="343.47" font-size="11.20" text-anchor="end">0.5</text>
<path d="M305.70 318.53H311.20" stroke="#1a1a1a" stroke-width="1.1"/>
<path d="M696 0L515 0L515 1150C470 1105 410 1065 345 1030C295 1003 250 985 215 973L215 1120C300 1152 375 1205 432 1262C488 1318 528 1368 553 1409L696 1409Z" fill="#111" stroke="#111" stroke-width="0.3" vector-effect="non-scaling-stroke" transform="translate(285.73 322.43) scale(0.00547 -0.00547)"/><text x="291.96" y="322.43" font-size="11.20">.0</text>
<path d="M305.70 297.50H311.20" stroke="#1a1a1a" stroke-width="1.1"/>
<path d="M696 0L515 0L515 1150C470 1105 410 1065 345 1030C295 1003 250 985 215 973L215 1120C300 1152 375 1205 432 1262C488 1318 528 1368 553 1409L696 1409Z" fill="#111" stroke="#111" stroke-width="0.3" vector-effect="non-scaling-stroke" transform="translate(285.73 301.40) scale(0.00547 -0.00547)"/><text x="291.96" y="301.40" font-size="11.20">.5</text>
<path d="M305.70 276.47H311.20" stroke="#1a1a1a" stroke-width="1.1"/>
<text x="301.30" y="280.37" font-size="11.20" text-anchor="end">2.0</text>
<path d="M305.70 255.43H311.20" stroke="#1a1a1a" stroke-width="1.1"/>
<text x="301.30" y="259.33" font-size="11.20" text-anchor="end">2.5</text>
<path d="M305.70 234.40H311.20" stroke="#1a1a1a" stroke-width="1.1"/>
<text x="301.30" y="238.30" font-size="11.20" text-anchor="end">3.0</text>
<path d="M479.60 360.60H484.60" stroke="#1a1a1a" stroke-width="1.1"/>
<text x="486.90" y="364.45" font-size="11.40" text-anchor="start">0</text>
<path d="M479.60 339.57H484.60" stroke="#1a1a1a" stroke-width="1.1"/>
<path d="M696 0L515 0L515 1150C470 1105 410 1065 345 1030C295 1003 250 985 215 973L215 1120C300 1152 375 1205 432 1262C488 1318 528 1368 553 1409L696 1409Z" fill="#111" stroke="#111" stroke-width="0.3" vector-effect="non-scaling-stroke" transform="translate(486.90 343.42) scale(0.00557 -0.00557)"/><text x="493.24" y="343.42" font-size="11.40">00</text>
<path d="M479.60 318.53H484.60" stroke="#1a1a1a" stroke-width="1.1"/>
<text x="486.90" y="322.38" font-size="11.40" text-anchor="start">200</text>
<path d="M479.60 297.50H484.60" stroke="#1a1a1a" stroke-width="1.1"/>
<text x="486.90" y="301.35" font-size="11.40" text-anchor="start">300</text>
<path d="M479.60 276.47H484.60" stroke="#1a1a1a" stroke-width="1.1"/>
<text x="486.90" y="280.32" font-size="11.40" text-anchor="start">400</text>
<path d="M479.60 255.43H484.60" stroke="#1a1a1a" stroke-width="1.1"/>
<text x="486.90" y="259.28" font-size="11.40" text-anchor="start">500</text>
<path d="M479.60 234.40H484.60" stroke="#1a1a1a" stroke-width="1.1"/>
<text x="486.90" y="238.25" font-size="11.40" text-anchor="start">600</text>
<path d="M311.20 397.10V402.10" stroke="#1a1a1a" stroke-width="1.1"/>
<text x="311.20" y="413.70" font-size="11.40" text-anchor="middle">0</text>
<path d="M334.20 397.10V402.10" stroke="#1a1a1a" stroke-width="1.1"/>
<text x="334.20" y="413.70" font-size="11.40" text-anchor="middle">2</text>
<path d="M357.20 397.10V402.10" stroke="#1a1a1a" stroke-width="1.1"/>
<text x="357.20" y="413.70" font-size="11.40" text-anchor="middle">4</text>
<path d="M380.20 397.10V402.10" stroke="#1a1a1a" stroke-width="1.1"/>
<text x="380.20" y="413.70" font-size="11.40" text-anchor="middle">6</text>
<path d="M403.20 397.10V402.10" stroke="#1a1a1a" stroke-width="1.1"/>
<text x="403.20" y="413.70" font-size="11.40" text-anchor="middle">8</text>
<path d="M426.20 397.10V402.10" stroke="#1a1a1a" stroke-width="1.1"/>
<path d="M696 0L515 0L515 1150C470 1105 410 1065 345 1030C295 1003 250 985 215 973L215 1120C300 1152 375 1205 432 1262C488 1318 528 1368 553 1409L696 1409Z" fill="#111" stroke="#111" stroke-width="0.3" vector-effect="non-scaling-stroke" transform="translate(419.86 413.70) scale(0.00557 -0.00557)"/><text x="426.20" y="413.70" font-size="11.40">0</text>
<path d="M449.20 397.10V402.10" stroke="#1a1a1a" stroke-width="1.1"/>
<path d="M696 0L515 0L515 1150C470 1105 410 1065 345 1030C295 1003 250 985 215 973L215 1120C300 1152 375 1205 432 1262C488 1318 528 1368 553 1409L696 1409Z" fill="#111" stroke="#111" stroke-width="0.3" vector-effect="non-scaling-stroke" transform="translate(442.86 413.70) scale(0.00557 -0.00557)"/><text x="449.20" y="413.70" font-size="11.40">2</text>
<path d="M472.20 397.10V402.10" stroke="#1a1a1a" stroke-width="1.1"/>
<path d="M696 0L515 0L515 1150C470 1105 410 1065 345 1030C295 1003 250 985 215 973L215 1120C300 1152 375 1205 432 1262C488 1318 528 1368 553 1409L696 1409Z" fill="#111" stroke="#111" stroke-width="0.3" vector-effect="non-scaling-stroke" transform="translate(465.86 413.70) scale(0.00557 -0.00557)"/><text x="472.20" y="413.70" font-size="11.40">4</text>
<path d="M314.70 360.60H479.60" stroke="#1a1a1a" stroke-width="1.1" stroke-dasharray="2.6 2.6"/>
<text x="314.30" y="248.00" font-size="16.2" font-weight="bold">E</text>
<polyline points="311.20,350.70 322.70,353.30 334.20,353.30 345.70,353.30 357.20,353.30 368.70,349.00 380.20,327.00 391.70,305.20 403.20,306.70 414.70,291.50 426.20,289.00 437.70,288.20 449.20,287.50 460.70,288.20" fill="none" stroke="#d04050" stroke-width="1.10" stroke-linejoin="round"/>
<circle cx="311.20" cy="350.70" r="2.45" fill="#e8101c"/>
<circle cx="322.70" cy="353.30" r="2.45" fill="#e8101c"/>
<circle cx="334.20" cy="353.30" r="2.45" fill="#e8101c"/>
<circle cx="345.70" cy="353.30" r="2.45" fill="#e8101c"/>
<circle cx="357.20" cy="353.30" r="2.45" fill="#e8101c"/>
<circle cx="368.70" cy="349.00" r="2.45" fill="#e8101c"/>
<circle cx="380.20" cy="327.00" r="2.45" fill="#e8101c"/>
<circle cx="391.70" cy="305.20" r="2.45" fill="#e8101c"/>
<circle cx="403.20" cy="306.70" r="2.45" fill="#e8101c"/>
<circle cx="414.70" cy="291.50" r="2.45" fill="#e8101c"/>
<circle cx="426.20" cy="289.00" r="2.45" fill="#e8101c"/>
<circle cx="437.70" cy="288.20" r="2.45" fill="#e8101c"/>
<circle cx="449.20" cy="287.50" r="2.45" fill="#e8101c"/>
<circle cx="460.70" cy="288.20" r="2.45" fill="#e8101c"/>
<polyline points="311.20,354.45 322.70,353.95 334.20,354.45 345.70,354.45 357.20,353.45 368.70,340.35 380.20,303.35 391.70,263.55 403.20,271.75 414.70,252.95 426.20,253.65 437.70,256.25 449.20,269.15 460.70,282.15" fill="none" stroke="#58d858" stroke-width="1.10" stroke-linejoin="round"/>
<path d="M311.20 351.00L314.20 356.20L308.20 356.20Z" fill="#20e020"/>
<path d="M322.70 350.50L325.70 355.70L319.70 355.70Z" fill="#20e020"/>
<path d="M334.20 351.00L337.20 356.20L331.20 356.20Z" fill="#20e020"/>
<path d="M345.70 351.00L348.70 356.20L342.70 356.20Z" fill="#20e020"/>
<path d="M357.20 350.00L360.20 355.20L354.20 355.20Z" fill="#20e020"/>
<path d="M368.70 336.90L371.70 342.10L365.70 342.10Z" fill="#20e020"/>
<path d="M380.20 299.90L383.20 305.10L377.20 305.10Z" fill="#20e020"/>
<path d="M391.70 260.10L394.70 265.30L388.70 265.30Z" fill="#20e020"/>
<path d="M403.20 268.30L406.20 273.50L400.20 273.50Z" fill="#20e020"/>
<path d="M414.70 249.50L417.70 254.70L411.70 254.70Z" fill="#20e020"/>
<path d="M426.20 250.20L429.20 255.40L423.20 255.40Z" fill="#20e020"/>
<path d="M437.70 252.80L440.70 258.00L434.70 258.00Z" fill="#20e020"/>
<path d="M449.20 265.70L452.20 270.90L446.20 270.90Z" fill="#20e020"/>
<path d="M460.70 278.70L463.70 283.90L457.70 283.90Z" fill="#20e020"/>
<polyline points="311.20,343.75 322.70,345.35 334.20,344.55 345.70,344.55 357.20,342.15 368.70,339.95 380.20,337.85 391.70,335.95 403.20,341.65 414.70,332.75 426.20,332.75 437.70,332.75 449.20,332.75 460.70,332.75" fill="none" stroke="#3030d0" stroke-width="1.10" stroke-linejoin="round"/>
<path d="M311.20 347.20L314.20 342.00L308.20 342.00Z" fill="#1010d0"/>
<path d="M322.70 348.80L325.70 343.60L319.70 343.60Z" fill="#1010d0"/>
<path d="M334.20 348.00L337.20 342.80L331.20 342.80Z" fill="#1010d0"/>
<path d="M345.70 348.00L348.70 342.80L342.70 342.80Z" fill="#1010d0"/>
<path d="M357.20 345.60L360.20 340.40L354.20 340.40Z" fill="#1010d0"/>
<path d="M368.70 343.40L371.70 338.20L365.70 338.20Z" fill="#1010d0"/>
<path d="M380.20 341.30L383.20 336.10L377.20 336.10Z" fill="#1010d0"/>
<path d="M391.70 339.40L394.70 334.20L388.70 334.20Z" fill="#1010d0"/>
<path d="M403.20 345.10L406.20 339.90L400.20 339.90Z" fill="#1010d0"/>
<path d="M414.70 336.20L417.70 331.00L411.70 331.00Z" fill="#1010d0"/>
<path d="M426.20 336.20L429.20 331.00L423.20 331.00Z" fill="#1010d0"/>
<path d="M437.70 336.20L440.70 331.00L434.70 331.00Z" fill="#1010d0"/>
<path d="M449.20 336.20L452.20 331.00L446.20 331.00Z" fill="#1010d0"/>
<path d="M460.70 336.20L463.70 331.00L457.70 331.00Z" fill="#1010d0"/>
<polyline points="311.20,280.70 322.70,313.90 334.20,318.30 345.70,316.30 357.20,296.70 368.70,287.10 380.20,266.60 391.70,255.10 403.20,246.60 414.70,246.10 426.20,247.00 437.70,251.00 449.20,253.20 460.70,265.80" fill="none" stroke="#1a1a1a" stroke-width="1.10" stroke-linejoin="round"/>
<circle cx="311.20" cy="280.70" r="2.25" fill="#fff" stroke="#1a1a1a" stroke-width="1.15"/>
<circle cx="322.70" cy="313.90" r="2.25" fill="#fff" stroke="#1a1a1a" stroke-width="1.15"/>
<circle cx="334.20" cy="318.30" r="2.25" fill="#fff" stroke="#1a1a1a" stroke-width="1.15"/>
<circle cx="345.70" cy="316.30" r="2.25" fill="#fff" stroke="#1a1a1a" stroke-width="1.15"/>
<circle cx="357.20" cy="296.70" r="2.25" fill="#fff" stroke="#1a1a1a" stroke-width="1.15"/>
<circle cx="368.70" cy="287.10" r="2.25" fill="#fff" stroke="#1a1a1a" stroke-width="1.15"/>
<circle cx="380.20" cy="266.60" r="2.25" fill="#fff" stroke="#1a1a1a" stroke-width="1.15"/>
<circle cx="391.70" cy="255.10" r="2.25" fill="#fff" stroke="#1a1a1a" stroke-width="1.15"/>
<circle cx="403.20" cy="246.60" r="2.25" fill="#fff" stroke="#1a1a1a" stroke-width="1.15"/>
<circle cx="414.70" cy="246.10" r="2.25" fill="#fff" stroke="#1a1a1a" stroke-width="1.15"/>
<circle cx="426.20" cy="247.00" r="2.25" fill="#fff" stroke="#1a1a1a" stroke-width="1.15"/>
<circle cx="437.70" cy="251.00" r="2.25" fill="#fff" stroke="#1a1a1a" stroke-width="1.15"/>
<circle cx="449.20" cy="253.20" r="2.25" fill="#fff" stroke="#1a1a1a" stroke-width="1.15"/>
<circle cx="460.70" cy="265.80" r="2.25" fill="#fff" stroke="#1a1a1a" stroke-width="1.15"/>
<path d="M311.20 440.30V603.00H479.60V440.30" fill="none" stroke="#1a1a1a" stroke-width="1.5"/>
<path d="M305.70 566.40H311.20" stroke="#1a1a1a" stroke-width="1.1"/>
<text x="301.30" y="570.30" font-size="11.20" text-anchor="end">0</text>
<path d="M305.70 541.18H311.20" stroke="#1a1a1a" stroke-width="1.1"/>
<text x="301.30" y="545.08" font-size="11.20" text-anchor="end">0.5</text>
<path d="M305.70 515.96H311.20" stroke="#1a1a1a" stroke-width="1.1"/>
<path d="M696 0L515 0L515 1150C470 1105 410 1065 345 1030C295 1003 250 985 215 973L215 1120C300 1152 375 1205 432 1262C488 1318 528 1368 553 1409L696 1409Z" fill="#111" stroke="#111" stroke-width="0.3" vector-effect="non-scaling-stroke" transform="translate(285.73 519.86) scale(0.00547 -0.00547)"/><text x="291.96" y="519.86" font-size="11.20">.0</text>
<path d="M305.70 490.74H311.20" stroke="#1a1a1a" stroke-width="1.1"/>
<path d="M696 0L515 0L515 1150C470 1105 410 1065 345 1030C295 1003 250 985 215 973L215 1120C300 1152 375 1205 432 1262C488 1318 528 1368 553 1409L696 1409Z" fill="#111" stroke="#111" stroke-width="0.3" vector-effect="non-scaling-stroke" transform="translate(285.73 494.64) scale(0.00547 -0.00547)"/><text x="291.96" y="494.64" font-size="11.20">.5</text>
<path d="M305.70 465.52H311.20" stroke="#1a1a1a" stroke-width="1.1"/>
<text x="301.30" y="469.42" font-size="11.20" text-anchor="end">2.0</text>
<path d="M305.70 440.30H311.20" stroke="#1a1a1a" stroke-width="1.1"/>
<text x="301.30" y="444.20" font-size="11.20" text-anchor="end">2.5</text>
<path d="M479.60 566.40H484.60" stroke="#1a1a1a" stroke-width="1.1"/>
<text x="486.90" y="570.25" font-size="11.40" text-anchor="start">0</text>
<path d="M479.60 545.38H484.60" stroke="#1a1a1a" stroke-width="1.1"/>
<path d="M696 0L515 0L515 1150C470 1105 410 1065 345 1030C295 1003 250 985 215 973L215 1120C300 1152 375 1205 432 1262C488 1318 528 1368 553 1409L696 1409Z" fill="#111" stroke="#111" stroke-width="0.3" vector-effect="non-scaling-stroke" transform="translate(486.90 549.23) scale(0.00557 -0.00557)"/><text x="493.24" y="549.23" font-size="11.40">00</text>
<path d="M479.60 524.37H484.60" stroke="#1a1a1a" stroke-width="1.1"/>
<text x="486.90" y="528.22" font-size="11.40" text-anchor="start">200</text>
<path d="M479.60 503.35H484.60" stroke="#1a1a1a" stroke-width="1.1"/>
<text x="486.90" y="507.20" font-size="11.40" text-anchor="start">300</text>
<path d="M479.60 482.33H484.60" stroke="#1a1a1a" stroke-width="1.1"/>
<text x="486.90" y="486.18" font-size="11.40" text-anchor="start">400</text>
<path d="M479.60 461.32H484.60" stroke="#1a1a1a" stroke-width="1.1"/>
<text x="486.90" y="465.17" font-size="11.40" text-anchor="start">500</text>
<path d="M479.60 440.30H484.60" stroke="#1a1a1a" stroke-width="1.1"/>
<text x="486.90" y="444.15" font-size="11.40" text-anchor="start">600</text>
<path d="M311.20 603.00V608.00" stroke="#1a1a1a" stroke-width="1.1"/>
<text x="311.20" y="619.60" font-size="11.40" text-anchor="middle">0</text>
<path d="M334.20 603.00V608.00" stroke="#1a1a1a" stroke-width="1.1"/>
<text x="334.20" y="619.60" font-size="11.40" text-anchor="middle">2</text>
<path d="M357.20 603.00V608.00" stroke="#1a1a1a" stroke-width="1.1"/>
<text x="357.20" y="619.60" font-size="11.40" text-anchor="middle">4</text>
<path d="M380.20 603.00V608.00" stroke="#1a1a1a" stroke-width="1.1"/>
<text x="380.20" y="619.60" font-size="11.40" text-anchor="middle">6</text>
<path d="M403.20 603.00V608.00" stroke="#1a1a1a" stroke-width="1.1"/>
<text x="403.20" y="619.60" font-size="11.40" text-anchor="middle">8</text>
<path d="M426.20 603.00V608.00" stroke="#1a1a1a" stroke-width="1.1"/>
<path d="M696 0L515 0L515 1150C470 1105 410 1065 345 1030C295 1003 250 985 215 973L215 1120C300 1152 375 1205 432 1262C488 1318 528 1368 553 1409L696 1409Z" fill="#111" stroke="#111" stroke-width="0.3" vector-effect="non-scaling-stroke" transform="translate(419.86 619.60) scale(0.00557 -0.00557)"/><text x="426.20" y="619.60" font-size="11.40">0</text>
<path d="M449.20 603.00V608.00" stroke="#1a1a1a" stroke-width="1.1"/>
<path d="M696 0L515 0L515 1150C470 1105 410 1065 345 1030C295 1003 250 985 215 973L215 1120C300 1152 375 1205 432 1262C488 1318 528 1368 553 1409L696 1409Z" fill="#111" stroke="#111" stroke-width="0.3" vector-effect="non-scaling-stroke" transform="translate(442.86 619.60) scale(0.00557 -0.00557)"/><text x="449.20" y="619.60" font-size="11.40">2</text>
<path d="M472.20 603.00V608.00" stroke="#1a1a1a" stroke-width="1.1"/>
<path d="M696 0L515 0L515 1150C470 1105 410 1065 345 1030C295 1003 250 985 215 973L215 1120C300 1152 375 1205 432 1262C488 1318 528 1368 553 1409L696 1409Z" fill="#111" stroke="#111" stroke-width="0.3" vector-effect="non-scaling-stroke" transform="translate(465.86 619.60) scale(0.00557 -0.00557)"/><text x="472.20" y="619.60" font-size="11.40">4</text>
<path d="M314.70 566.40H479.60" stroke="#1a1a1a" stroke-width="1.1" stroke-dasharray="2.6 2.6"/>
<text x="314.80" y="453.80" font-size="16.2" font-weight="bold">F</text>
<polyline points="311.20,545.55 322.70,548.65 334.20,550.35 345.70,552.45 357.20,551.65 368.70,546.75 380.20,534.95 391.70,530.65 403.20,527.55 414.70,525.95 426.20,529.75 437.70,530.45 449.20,528.85 460.70,531.55 472.20,529.35" fill="none" stroke="#58d858" stroke-width="1.10" stroke-linejoin="round"/>
<path d="M311.20 542.10L314.20 547.30L308.20 547.30Z" fill="#20e020"/>
<path d="M322.70 545.20L325.70 550.40L319.70 550.40Z" fill="#20e020"/>
<path d="M334.20 546.90L337.20 552.10L331.20 552.10Z" fill="#20e020"/>
<path d="M345.70 549.00L348.70 554.20L342.70 554.20Z" fill="#20e020"/>
<path d="M357.20 548.20L360.20 553.40L354.20 553.40Z" fill="#20e020"/>
<path d="M368.70 543.30L371.70 548.50L365.70 548.50Z" fill="#20e020"/>
<path d="M380.20 531.50L383.20 536.70L377.20 536.70Z" fill="#20e020"/>
<path d="M391.70 527.20L394.70 532.40L388.70 532.40Z" fill="#20e020"/>
<path d="M403.20 524.10L406.20 529.30L400.20 529.30Z" fill="#20e020"/>
<path d="M414.70 522.50L417.70 527.70L411.70 527.70Z" fill="#20e020"/>
<path d="M426.20 526.30L429.20 531.50L423.20 531.50Z" fill="#20e020"/>
<path d="M437.70 527.00L440.70 532.20L434.70 532.20Z" fill="#20e020"/>
<path d="M449.20 525.40L452.20 530.60L446.20 530.60Z" fill="#20e020"/>
<path d="M460.70 528.10L463.70 533.30L457.70 533.30Z" fill="#20e020"/>
<path d="M472.20 525.90L475.20 531.10L469.20 531.10Z" fill="#20e020"/>
<polyline points="311.20,555.30 322.70,557.00 334.20,557.60 345.70,559.30 357.20,558.40 368.70,558.90 380.20,555.70 391.70,554.70 403.20,554.50 414.70,554.50 426.20,554.50 437.70,554.50 449.20,553.40 460.70,553.40 472.20,553.90" fill="none" stroke="#d04050" stroke-width="1.10" stroke-linejoin="round"/>
<circle cx="311.20" cy="555.30" r="2.45" fill="#e8101c"/>
<circle cx="322.70" cy="557.00" r="2.45" fill="#e8101c"/>
<circle cx="334.20" cy="557.60" r="2.45" fill="#e8101c"/>
<circle cx="345.70" cy="559.30" r="2.45" fill="#e8101c"/>
<circle cx="357.20" cy="558.40" r="2.45" fill="#e8101c"/>
<circle cx="368.70" cy="558.90" r="2.45" fill="#e8101c"/>
<circle cx="380.20" cy="555.70" r="2.45" fill="#e8101c"/>
<circle cx="391.70" cy="554.70" r="2.45" fill="#e8101c"/>
<circle cx="403.20" cy="554.50" r="2.45" fill="#e8101c"/>
<circle cx="414.70" cy="554.50" r="2.45" fill="#e8101c"/>
<circle cx="426.20" cy="554.50" r="2.45" fill="#e8101c"/>
<circle cx="437.70" cy="554.50" r="2.45" fill="#e8101c"/>
<circle cx="449.20" cy="553.40" r="2.45" fill="#e8101c"/>
<circle cx="460.70" cy="553.40" r="2.45" fill="#e8101c"/>
<circle cx="472.20" cy="553.90" r="2.45" fill="#e8101c"/>
<polyline points="311.20,537.35 322.70,539.65 334.20,544.15 345.70,544.15 357.20,537.95 368.70,506.25 380.20,481.15 391.70,469.55 403.20,461.65 414.70,469.15 426.20,462.05 437.70,466.45 449.20,457.15 460.70,466.95 472.20,461.65" fill="none" stroke="#3030d0" stroke-width="1.10" stroke-linejoin="round"/>
<path d="M311.20 540.80L314.20 535.60L308.20 535.60Z" fill="#1010d0"/>
<path d="M322.70 543.10L325.70 537.90L319.70 537.90Z" fill="#1010d0"/>
<path d="M334.20 547.60L337.20 542.40L331.20 542.40Z" fill="#1010d0"/>
<path d="M345.70 547.60L348.70 542.40L342.70 542.40Z" fill="#1010d0"/>
<path d="M357.20 541.40L360.20 536.20L354.20 536.20Z" fill="#1010d0"/>
<path d="M368.70 509.70L371.70 504.50L365.70 504.50Z" fill="#1010d0"/>
<path d="M380.20 484.60L383.20 479.40L377.20 479.40Z" fill="#1010d0"/>
<path d="M391.70 473.00L394.70 467.80L388.70 467.80Z" fill="#1010d0"/>
<path d="M403.20 465.10L406.20 459.90L400.20 459.90Z" fill="#1010d0"/>
<path d="M414.70 472.60L417.70 467.40L411.70 467.40Z" fill="#1010d0"/>
<path d="M426.20 465.50L429.20 460.30L423.20 460.30Z" fill="#1010d0"/>
<path d="M437.70 469.90L440.70 464.70L434.70 464.70Z" fill="#1010d0"/>
<path d="M449.20 460.60L452.20 455.40L446.20 455.40Z" fill="#1010d0"/>
<path d="M460.70 470.40L463.70 465.20L457.70 465.20Z" fill="#1010d0"/>
<path d="M472.20 465.10L475.20 459.90L469.20 459.90Z" fill="#1010d0"/>
<polyline points="311.20,526.70 322.70,531.10 334.20,533.80 345.70,529.00 357.20,515.30 368.70,500.40 380.20,501.60 391.70,490.20 403.20,473.20 414.70,467.00 426.20,458.40 437.70,468.70 449.20,460.30 460.70,472.50 472.20,476.00" fill="none" stroke="#1a1a1a" stroke-width="1.10" stroke-linejoin="round"/>
<circle cx="311.20" cy="526.70" r="2.25" fill="#fff" stroke="#1a1a1a" stroke-width="1.15"/>
<circle cx="322.70" cy="531.10" r="2.25" fill="#fff" stroke="#1a1a1a" stroke-width="1.15"/>
<circle cx="334.20" cy="533.80" r="2.25" fill="#fff" stroke="#1a1a1a" stroke-width="1.15"/>
<circle cx="345.70" cy="529.00" r="2.25" fill="#fff" stroke="#1a1a1a" stroke-width="1.15"/>
<circle cx="357.20" cy="515.30" r="2.25" fill="#fff" stroke="#1a1a1a" stroke-width="1.15"/>
<circle cx="368.70" cy="500.40" r="2.25" fill="#fff" stroke="#1a1a1a" stroke-width="1.15"/>
<circle cx="380.20" cy="501.60" r="2.25" fill="#fff" stroke="#1a1a1a" stroke-width="1.15"/>
<circle cx="391.70" cy="490.20" r="2.25" fill="#fff" stroke="#1a1a1a" stroke-width="1.15"/>
<circle cx="403.20" cy="473.20" r="2.25" fill="#fff" stroke="#1a1a1a" stroke-width="1.15"/>
<circle cx="414.70" cy="467.00" r="2.25" fill="#fff" stroke="#1a1a1a" stroke-width="1.15"/>
<circle cx="426.20" cy="458.40" r="2.25" fill="#fff" stroke="#1a1a1a" stroke-width="1.15"/>
<circle cx="437.70" cy="468.70" r="2.25" fill="#fff" stroke="#1a1a1a" stroke-width="1.15"/>
<circle cx="449.20" cy="460.30" r="2.25" fill="#fff" stroke="#1a1a1a" stroke-width="1.15"/>
<circle cx="460.70" cy="472.50" r="2.25" fill="#fff" stroke="#1a1a1a" stroke-width="1.15"/>
<circle cx="472.20" cy="476.00" r="2.25" fill="#fff" stroke="#1a1a1a" stroke-width="1.15"/>
<rect x="53.90" y="165.20" width="105.90" height="15.30" rx="3.20" ry="3.20" fill="#fff" stroke="#4a4a4a" stroke-width="1.15"/>
<text x="0" y="0" font-size="10.20" transform="translate(55.50 176.60) scale(0.951 1)">Unfractionated heparin</text>
<path d="M191.30 165.00H166.90Q163.70 165.00 163.70 168.20V177.30Q163.70 180.50 166.90 180.50H191.30" fill="none" stroke="#4a4a4a" stroke-width="1.15"/>
<path d="M192.90 165.00H205.50M192.90 180.50H205.50" stroke="#4a4a4a" stroke-width="1.15" stroke-dasharray="1.8 2.2"/>
<text x="0" y="0" font-size="10.20" transform="translate(167.05 176.70) scale(0.956 1)">Warfarin</text>
<rect x="58.80" y="370.30" width="145.20" height="15.10" rx="3.20" ry="3.20" fill="#fff" stroke="#4a4a4a" stroke-width="1.15"/>
<text x="62.93" y="381.60" font-size="11.65" text-anchor="start">Unfractionated heparin</text>
<rect x="54.30" y="576.10" width="81.00" height="15.90" rx="3.20" ry="3.20" fill="#fff" stroke="#4a4a4a" stroke-width="1.15"/>
<text x="64.27" y="587.80" font-size="11.65" text-anchor="start">Dalteparin</text>
<rect x="323.40" y="165.20" width="137.40" height="15.60" rx="3.20" ry="3.20" fill="#fff" stroke="#4a4a4a" stroke-width="1.15"/>
<text x="328.33" y="177.00" font-size="11.56" text-anchor="start">Unfractionated heparin</text>
<rect x="323.50" y="370.30" width="143.00" height="15.30" rx="3.20" ry="3.20" fill="#fff" stroke="#4a4a4a" stroke-width="1.15"/>
<text x="329.43" y="381.50" font-size="11.64" text-anchor="start">Unfractionated heparin</text>
<rect x="323.50" y="576.00" width="148.30" height="15.30" rx="3.20" ry="3.20" fill="#fff" stroke="#4a4a4a" stroke-width="1.15"/>
<text x="329.43" y="587.00" font-size="11.64" text-anchor="start">Unfractionated heparin</text>
<g transform="translate(167.30 36.60) scale(1.075 1)"><text x="0.00" y="0.00" font-size="11.00">PE</text></g>
<g transform="translate(166.70 47.30) scale(1.075 1)"><text x="0.00" y="0.00" font-size="11.00">day </text><path d="M696 0L515 0L515 1150C470 1105 410 1065 345 1030C295 1003 250 985 215 973L215 1120C300 1152 375 1205 432 1262C488 1318 528 1368 553 1409L696 1409Z" fill="#111" stroke="#111" stroke-width="0.3" vector-effect="non-scaling-stroke" transform="translate(20.79 0.00) scale(0.00537 -0.00537)"/><text x="26.91" y="0.00" font-size="11.00">7</text></g>
<path d="M177.2 50.9V58.1H184" fill="none" stroke="#1a1a1a" stroke-width="1.15"/>
<path d="M183.2 55.5L188.9 58.1L183.2 60.7Z" fill="#1a1a1a"/>
<g transform="translate(149.90 79.60) scale(1.075 1)"><text x="0.00" y="0.00" font-size="11.00">DVT</text></g>
<path d="M162.1 82.5V90" fill="none" stroke="#1a1a1a" stroke-width="1.1"/>
<path d="M159.3 89L164.9 89L162.1 94.5Z" fill="#1a1a1a"/>
<path d="M125.50 65.60L125.50 62.90M125.50 65.60L128.07 64.77M125.50 65.60L127.09 67.78M125.50 65.60L123.91 67.78M125.50 65.60L122.93 64.77" stroke="#1a1a1a" stroke-width="1.25" stroke-linecap="butt" fill="none"/>
<g transform="translate(168.20 236.50) scale(1.075 1)"><text x="0.00" y="0.00" font-size="11.00">DVT</text></g>
<path d="M191.5 232.0H199.7V239" fill="none" stroke="#1a1a1a" stroke-width="1.1"/>
<path d="M196.9 238.1L202.5 238.1L199.7 243.6Z" fill="#1a1a1a"/>
<path d="M135.40 263.40L135.40 260.70M135.40 263.40L137.97 262.57M135.40 263.40L136.99 265.58M135.40 263.40L133.81 265.58M135.40 263.40L132.83 262.57" stroke="#1a1a1a" stroke-width="1.25" stroke-linecap="butt" fill="none"/>
<path d="M115.90 501.70L115.90 499.00M115.90 501.70L118.47 500.87M115.90 501.70L117.49 503.88M115.90 501.70L114.31 503.88M115.90 501.70L113.33 500.87" stroke="#1a1a1a" stroke-width="1.25" stroke-linecap="butt" fill="none"/>
<g transform="translate(9.10 161.74) rotate(-90)">
<text x="0" y="0" font-size="11.80">EIA-G</text>
<text x="41.68" y="0" font-size="11.80">A</text>
<text x="59.0" y="0" font-size="11.80">M</text>
<text x="79.14" y="0" font-size="11.55">(OD units)</text>
</g>
<circle cx="4.60" cy="124.50" r="2.50" fill="#e8101c"/>
<path d="M4.60 103.95L7.40 109.25L1.80 109.25Z" fill="#20e020"/>
<path d="M4.60 89.65L7.40 84.35L1.80 84.35Z" fill="#1010d0"/>
<g transform="translate(9.10 362.14) rotate(-90)">
<text x="0" y="0" font-size="11.80">EIA-G</text>
<text x="41.68" y="0" font-size="11.80">A</text>
<text x="59.0" y="0" font-size="11.80">M</text>
<text x="79.14" y="0" font-size="11.55">(OD units)</text>
</g>
<circle cx="4.60" cy="324.90" r="2.50" fill="#e8101c"/>
<path d="M4.60 304.35L7.40 309.65L1.80 309.65Z" fill="#20e020"/>
<path d="M4.60 290.05L7.40 284.75L1.80 284.75Z" fill="#1010d0"/>
<g transform="translate(9.10 569.04) rotate(-90)">
<text x="0" y="0" font-size="11.80">EIA-G</text>
<text x="41.68" y="0" font-size="11.80">A</text>
<text x="59.0" y="0" font-size="11.80">M</text>
<text x="79.14" y="0" font-size="11.55">(OD units)</text>
</g>
<circle cx="4.60" cy="531.80" r="2.50" fill="#e8101c"/>
<path d="M4.60 511.25L7.40 516.55L1.80 516.55Z" fill="#20e020"/>
<path d="M4.60 496.95L7.40 491.65L1.80 491.65Z" fill="#1010d0"/>
<g transform="translate(279.30 161.64) rotate(-90)">
<text x="0" y="0" font-size="11.80">EIA-G</text>
<text x="41.68" y="0" font-size="11.80">A</text>
<text x="59.0" y="0" font-size="11.80">M</text>
<text x="79.14" y="0" font-size="11.55">(OD units)</text>
</g>
<circle cx="274.80" cy="124.40" r="2.50" fill="#e8101c"/>
<path d="M274.80 103.85L277.60 109.15L272.00 109.15Z" fill="#20e020"/>
<path d="M274.80 89.55L277.60 84.25L272.00 84.25Z" fill="#1010d0"/>
<g transform="translate(279.30 361.74) rotate(-90)">
<text x="0" y="0" font-size="11.80">EIA-G</text>
<text x="41.68" y="0" font-size="11.80">A</text>
<text x="59.0" y="0" font-size="11.80">M</text>
<text x="79.14" y="0" font-size="11.55">(OD units)</text>
</g>
<circle cx="274.80" cy="324.50" r="2.50" fill="#e8101c"/>
<path d="M274.80 303.95L277.60 309.25L272.00 309.25Z" fill="#20e020"/>
<path d="M274.80 289.65L277.60 284.35L272.00 284.35Z" fill="#1010d0"/>
<g transform="translate(279.30 569.04) rotate(-90)">
<text x="0" y="0" font-size="11.80">EIA-G</text>
<text x="41.68" y="0" font-size="11.80">A</text>
<text x="59.0" y="0" font-size="11.80">M</text>
<text x="79.14" y="0" font-size="11.55">(OD units)</text>
</g>
<circle cx="274.80" cy="531.80" r="2.50" fill="#e8101c"/>
<path d="M274.80 511.25L277.60 516.55L272.00 516.55Z" fill="#20e020"/>
<path d="M274.80 496.95L277.60 491.65L272.00 491.65Z" fill="#1010d0"/>
<path d="M243.50 156.80V136.80" stroke="#1a1a1a" stroke-width="1"/>
<circle cx="243.50" cy="146.70" r="2.10" fill="#fff" stroke="#1a1a1a" stroke-width="1.15"/>
<g transform="translate(247.80 132.30) rotate(-90)">
<text x="-0.90" y="0.00" font-size="11.30">Platelet count x</text><path d="M696 0L515 0L515 1150C470 1105 410 1065 345 1030C295 1003 250 985 215 973L215 1120C300 1152 375 1205 432 1262C488 1318 528 1368 553 1409L696 1409Z" fill="#111" stroke="#111" stroke-width="0.3" vector-effect="non-scaling-stroke" transform="translate(76.36 0.00) scale(0.00552 -0.00552)"/><text x="82.64" y="0.00" font-size="11.30">0</text>
<text x="89.19" y="-4.5" font-size="9.0">9</text>
<text x="95.3" y="0" font-size="11.30">/L</text>
</g>
<path d="M243.50 360.00V340.00" stroke="#1a1a1a" stroke-width="1"/>
<circle cx="243.50" cy="349.90" r="2.10" fill="#fff" stroke="#1a1a1a" stroke-width="1.15"/>
<g transform="translate(247.80 335.50) rotate(-90)">
<text x="-0.90" y="0.00" font-size="11.30">Platelet count x</text><path d="M696 0L515 0L515 1150C470 1105 410 1065 345 1030C295 1003 250 985 215 973L215 1120C300 1152 375 1205 432 1262C488 1318 528 1368 553 1409L696 1409Z" fill="#111" stroke="#111" stroke-width="0.3" vector-effect="non-scaling-stroke" transform="translate(76.36 0.00) scale(0.00552 -0.00552)"/><text x="82.64" y="0.00" font-size="11.30">0</text>
<text x="89.19" y="-4.5" font-size="9.0">9</text>
<text x="95.3" y="0" font-size="11.30">/L</text>
</g>
<path d="M243.50 570.00V550.00" stroke="#1a1a1a" stroke-width="1"/>
<circle cx="243.50" cy="559.90" r="2.10" fill="#fff" stroke="#1a1a1a" stroke-width="1.15"/>
<g transform="translate(247.80 545.50) rotate(-90)">
<text x="-0.90" y="0.00" font-size="11.30">Platelet count x</text><path d="M696 0L515 0L515 1150C470 1105 410 1065 345 1030C295 1003 250 985 215 973L215 1120C300 1152 375 1205 432 1262C488 1318 528 1368 553 1409L696 1409Z" fill="#111" stroke="#111" stroke-width="0.3" vector-effect="non-scaling-stroke" transform="translate(76.36 0.00) scale(0.00552 -0.00552)"/><text x="82.64" y="0.00" font-size="11.30">0</text>
<text x="89.19" y="-4.5" font-size="9.0">9</text>
<text x="95.3" y="0" font-size="11.30">/L</text>
</g>
<path d="M514.90 158.90V138.90" stroke="#1a1a1a" stroke-width="1"/>
<circle cx="514.90" cy="148.80" r="2.10" fill="#fff" stroke="#1a1a1a" stroke-width="1.15"/>
<g transform="translate(519.40 134.40) rotate(-90)">
<text x="-0.90" y="0.00" font-size="11.30">Platelet count x</text><path d="M696 0L515 0L515 1150C470 1105 410 1065 345 1030C295 1003 250 985 215 973L215 1120C300 1152 375 1205 432 1262C488 1318 528 1368 553 1409L696 1409Z" fill="#111" stroke="#111" stroke-width="0.3" vector-effect="non-scaling-stroke" transform="translate(76.36 0.00) scale(0.00552 -0.00552)"/><text x="82.64" y="0.00" font-size="11.30">0</text>
<text x="89.19" y="-4.5" font-size="9.0">9</text>
<text x="95.3" y="0" font-size="11.30">/L</text>
</g>
<path d="M514.90 359.40V339.40" stroke="#1a1a1a" stroke-width="1"/>
<circle cx="514.90" cy="349.30" r="2.10" fill="#fff" stroke="#1a1a1a" stroke-width="1.15"/>
<g transform="translate(519.40 334.90) rotate(-90)">
<text x="-0.90" y="0.00" font-size="11.30">Platelet count x</text><path d="M696 0L515 0L515 1150C470 1105 410 1065 345 1030C295 1003 250 985 215 973L215 1120C300 1152 375 1205 432 1262C488 1318 528 1368 553 1409L696 1409Z" fill="#111" stroke="#111" stroke-width="0.3" vector-effect="non-scaling-stroke" transform="translate(76.36 0.00) scale(0.00552 -0.00552)"/><text x="82.64" y="0.00" font-size="11.30">0</text>
<text x="89.19" y="-4.5" font-size="9.0">9</text>
<text x="95.3" y="0" font-size="11.30">/L</text>
</g>
<path d="M514.90 569.10V549.10" stroke="#1a1a1a" stroke-width="1"/>
<circle cx="514.90" cy="559.00" r="2.10" fill="#fff" stroke="#1a1a1a" stroke-width="1.15"/>
<g transform="translate(519.40 544.60) rotate(-90)">
<text x="-0.90" y="0.00" font-size="11.30">Platelet count x</text><path d="M696 0L515 0L515 1150C470 1105 410 1065 345 1030C295 1003 250 985 215 973L215 1120C300 1152 375 1205 432 1262C488 1318 528 1368 553 1409L696 1409Z" fill="#111" stroke="#111" stroke-width="0.3" vector-effect="non-scaling-stroke" transform="translate(76.36 0.00) scale(0.00552 -0.00552)"/><text x="82.64" y="0.00" font-size="11.30">0</text>
<text x="89.19" y="-4.5" font-size="9.0">9</text>
<text x="95.3" y="0" font-size="11.30">/L</text>
</g>
</svg></body></html>
